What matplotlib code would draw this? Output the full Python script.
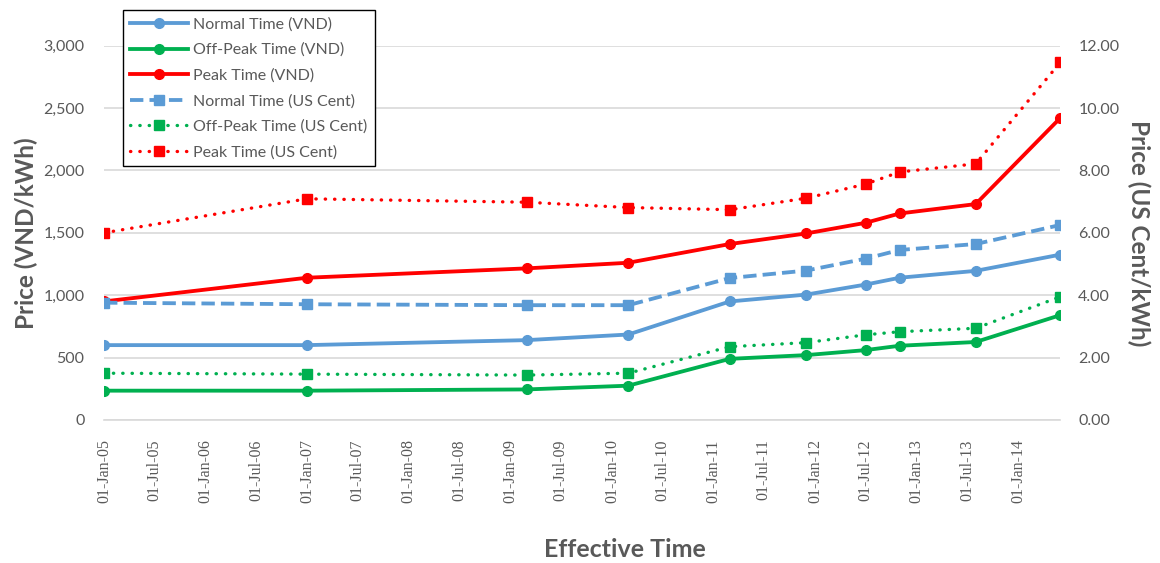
import matplotlib.pyplot as plt
import matplotlib.dates as mdates
import numpy as np
from datetime import datetime

# effective dates of each tariff
dates = [datetime(2005, 1, 1), datetime(2007, 1, 1), datetime(2009, 3, 1),
         datetime(2010, 3, 1), datetime(2011, 3, 1), datetime(2011, 12, 1),
         datetime(2012, 7, 1), datetime(2012, 11, 1), datetime(2013, 8, 1),
         datetime(2014, 6, 1)]

normal_vnd = [600, 600, 640, 685, 950, 1005, 1085, 1140, 1195, 1325]
offpeak_vnd = [235, 235, 245, 275, 490, 520, 560, 595, 625, 840]
peak_vnd = [950, 1140, 1215, 1260, 1410, 1495, 1580, 1655, 1730, 2420]

normal_us = [3.76, 3.71, 3.68, 3.68, 4.55, 4.79, 5.17, 5.45, 5.64, 6.25]
offpeak_us = [1.50, 1.47, 1.44, 1.50, 2.35, 2.48, 2.73, 2.83, 2.94, 3.95]
peak_us = [6.00, 7.09, 6.98, 6.81, 6.74, 7.11, 7.56, 7.95, 8.21, 11.46]

tick_dates = [datetime(2005 + i // 2, 1 + 6 * (i % 2), 1) for i in range(19)]

BLUE = '#5B9BD5'
GREEN = '#00B050'
RED = '#FF0000'
GREY = '#595959'

plt.rcParams['font.family'] = ['Lato', 'DejaVu Sans']

fig = plt.figure(figsize=(11.6, 5.63), dpi=100)
ax = fig.add_axes([0.0897, 0.254, 0.8243, 0.665])
ax2 = ax.twinx()

lw = 2.75
ms = 7
h1, = ax.plot(dates, normal_vnd, color=BLUE, lw=lw, marker='o', ms=ms, label='Normal Time (VND)')
h2, = ax.plot(dates, offpeak_vnd, color=GREEN, lw=lw, marker='o', ms=ms, label='Off-Peak Time (VND)')
h3, = ax.plot(dates, peak_vnd, color=RED, lw=lw, marker='o', ms=ms, label='Peak Time (VND)')

dot = (0, (0.1, 2.7))
h4, = ax2.plot(dates, normal_us, color=BLUE, lw=lw, marker='s', ms=ms,
               linestyle=(0, (3.5, 1.6)), label='Normal Time (US Cent)')
h5, = ax2.plot(dates, offpeak_us, color=GREEN, lw=2.4, marker='s', ms=ms,
               linestyle=dot, dash_capstyle='round', label='Off-Peak Time (US Cent)')
h6, = ax2.plot(dates, peak_us, color=RED, lw=2.4, marker='s', ms=ms,
               linestyle=dot, dash_capstyle='round', label='Peak Time (US Cent)')

ax.set_ylim(0, 3000)
ax2.set_ylim(0, 12)
ax.set_yticks(np.arange(0, 3001, 500))
ax2.set_yticks(np.arange(0, 12.1, 2))
ax.yaxis.set_major_formatter(plt.FuncFormatter(lambda v, p: f'{v:,.0f}'))
ax2.yaxis.set_major_formatter(plt.FuncFormatter(lambda v, p: f'{v:.2f}'))
ax.grid(axis='y', color='#D9D9D9', lw=1.2)
ax.set_axisbelow(True)

ax.set_xlim(dates[0], dates[-1])
ax.set_xticks(tick_dates)
ax.xaxis.set_major_formatter(mdates.DateFormatter('%d-%b-%y'))
for lab in ax.get_xticklabels():
    lab.set_rotation(90)
    lab.set_fontfamily(['Liberation Serif'])
    lab.set_fontsize(14.5)
    lab.set_color(GREY)

for a in (ax, ax2):
    for s in a.spines.values():
        s.set_visible(False)
    a.tick_params(length=0, colors=GREY, labelsize=11.5)
ax.spines['bottom'].set_visible(True)
ax.spines['bottom'].set_color('#D9D9D9')
ax.spines['bottom'].set_linewidth(1.2)
ax.tick_params(axis='y', pad=14)
ax2.tick_params(axis='y', pad=13)
ax.tick_params(axis='x', pad=14)

ax.set_ylabel('Price (VND/kWh)', fontsize=17.5, fontweight='bold', color=GREY, labelpad=4)
ax2.set_ylabel('Price (US Cent/kWh)', fontsize=17.5, fontweight='bold', color=GREY,
               rotation=-90, labelpad=22)
fig.text(0.539, 0.0107, 'Effective Time', fontsize=18, fontweight='bold', color=GREY,
         ha='center', va='baseline')

leg = ax2.legend(handles=[h1, h2, h3, h4, h5, h6], loc='upper left',
                 bbox_to_anchor=(0.106, 0.982), bbox_transform=fig.transFigure,
                 borderaxespad=0, fontsize=11.5, handlelength=3.6, labelspacing=0.7,
                 borderpad=0.45, handletextpad=0.35, fancybox=False, framealpha=1,
                 edgecolor='black')
leg.get_frame().set_linewidth(1.0)
for t in leg.get_texts():
    t.set_color(GREY)

fig.savefig('out.png', dpi=100)
